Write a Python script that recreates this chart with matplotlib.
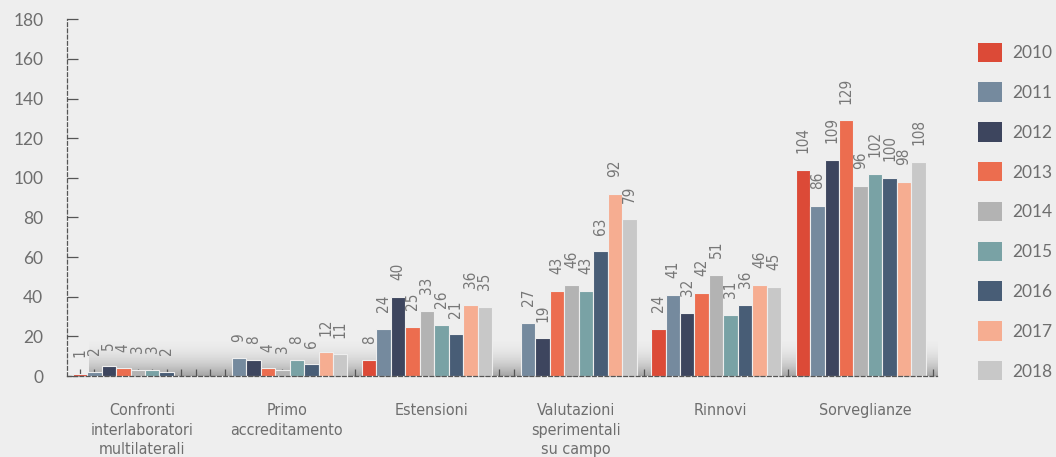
import numpy as np
import matplotlib.pyplot as plt
from matplotlib.patches import Patch

# dati
categorie = ["Confronti\ninterlaboratori\nmultilaterali", "Primo\naccreditamento", "Estensioni",
             "Valutazioni\nsperimentali\nsu campo", "Rinnovi", "Sorveglianze"]
anni = ["2010", "2011", "2012", "2013", "2014", "2015", "2016", "2017", "2018"]
nan = np.nan
v2010 = [1, nan, 8, nan, 24, 104]
v2011 = [2, 9, 24, 27, 41, 86]
v2012 = [5, 8, 40, 19, 32, 109]
v2013 = [4, 4, 25, 43, 42, 129]
v2014 = [3, 3, 33, 46, 51, 96]
v2015 = [3, 8, 26, 43, 31, 102]
v2016 = [2, 6, 21, 63, 36, 100]
v2017 = [nan, 12, 36, 92, 46, 98]
v2018 = [nan, 11, 35, 79, 45, 108]
valori = [v2010, v2011, v2012, v2013, v2014, v2015, v2016, v2017, v2018]
colori = ["#DC4A37", "#758A9E", "#3D455E", "#EC6D4F", "#B3B3B3",
          "#79A2A5", "#485D76", "#F6AD91", "#C8C8C8"]

sfondo = "#EEEEEE"
grigio = "#6E6E6E"

fig = plt.figure(figsize=(10.56, 4.57), dpi=100, facecolor=sfondo)
ax = fig.add_axes([0.0634, 0.177, 0.8237, 0.781])
ax.set_facecolor(sfondo)

# ombra sfumata sulla base
N = 100
t = np.linspace(0, 1, N)
grad = np.zeros((N, 1, 4))
grad[:, 0, :3] = 0.35
grad[:, 0, 3] = 0.5 * (1 - t) ** 2.2
ax.imshow(grad, extent=[0.6, 59.26, 0, 20], origin="lower", aspect="auto", zorder=1)

n_cat = len(categorie)
for j, (vals, c) in enumerate(zip(valori, colori)):
    x = np.arange(n_cat) * 10 + j
    ax.bar(x, vals, width=1.0, color=c, edgecolor=sfondo, linewidth=0.8, zorder=2)
    for xi, v in zip(x, vals):
        if np.isnan(v):
            continue
        ax.annotate(f"{int(v)}", (xi, v), xytext=(0, 12), textcoords="offset points",
                    rotation=90, ha="center", va="bottom", fontsize=11, color="#777777",
                    family="DejaVu Sans", fontstretch="condensed")

ax.set_xlim(-0.9, 59.26)
ax.set_ylim(0, 180)
ax.set_yticks(range(0, 181, 20))
ax.set_xticks(range(0, 60))
ax.set_xticklabels([])

for s in ["top", "right"]:
    ax.spines[s].set_visible(False)
for s in ["left", "bottom"]:
    ax.spines[s].set_linestyle((0, (3, 2)))
    ax.spines[s].set_color("#555555")
    ax.spines[s].set_linewidth(0.9)

ax.tick_params(axis="y", direction="in", length=8, width=0.9, color="#555555",
               pad=17, labelsize=12.5, labelcolor=grigio)
ax.tick_params(axis="x", direction="in", length=5, width=0.9, color="#555555")
for lab in ax.get_yticklabels():
    lab.set_family("Lato")

for g, nome in enumerate(categorie):
    ax.text(g * 10 + 4.3, -0.075, nome, transform=ax.get_xaxis_transform(),
            ha="center", va="top", fontsize=11.5, color=grigio, linespacing=1.4,
            family="DejaVu Sans", fontstretch="condensed")

handles = [Patch(facecolor=c, edgecolor="none") for c in colori]
leg = fig.legend(handles, anni, loc="upper left", bbox_to_anchor=(0.92, 0.922),
                 frameon=False, fontsize=12.5, handlelength=1.35, handleheight=1.35,
                 labelspacing=1.17, handletextpad=0.6, borderaxespad=0)
for txt in leg.get_texts():
    txt.set_color(grigio)
    txt.set_family("Lato")

fig.savefig("out.png", dpi=100, facecolor=sfondo)
